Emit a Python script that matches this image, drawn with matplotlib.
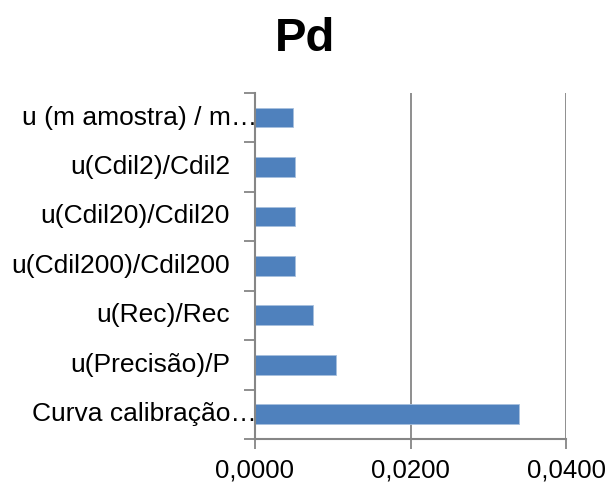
import matplotlib
matplotlib.use("Agg")
import matplotlib.pyplot as plt
from matplotlib.transforms import blended_transform_factory, offset_copy

plt.rcParams['font.family'] = ['Liberation Sans', 'DejaVu Sans']

# categories from bottom to top
labels = ["Curva calibração…", "u(Precisão)/P", "u(Rec)/Rec",
          "u(Cdil200)/Cdil200", "u(Cdil20)/Cdil20", "u(Cdil2)/Cdil2",
          "u (m amostra) / m…"]
values = [0.0340, 0.0104, 0.0074, 0.0052, 0.0052, 0.0052, 0.0049]
x_ticks = [0.0, 0.02, 0.04]
x_tick_labels = ["0,0000", "0,0200", "0,0400"]

fig = plt.figure(figsize=(6.1, 4.86), dpi=100)
ax = fig.add_axes([0.418, 0.0967, 0.51, 0.7123])

pos = list(range(len(labels)))
ax.barh(pos, values, height=0.4, color='#4F81BD', edgecolor='#A7C0DE',
        linewidth=0.6, zorder=3)

ax.set_xlim(0, 0.04)
ax.set_ylim(-0.5, len(labels) - 0.5)
ax.set_xticks(x_ticks)
ax.set_xticklabels(x_tick_labels, fontsize=18.5)
ax.set_yticks([p + 0.5 for p in pos[:-1]] + [-0.5, len(labels) - 0.5])
ax.set_yticklabels([])
ax.tick_params(axis='y', length=8, width=1.3, color='#868686', direction='out')
ax.tick_params(axis='x', length=7, width=1.3, color='#868686', direction='out', pad=7)

ax.grid(axis='x', color='#868686', linewidth=1.3, zorder=0)
for s in ['top', 'right']:
    ax.spines[s].set_visible(False)
for s in ['left', 'bottom']:
    ax.spines[s].set_color('#868686')
    ax.spines[s].set_linewidth(1.5)
ax.spines['left'].set_zorder(4)

trans = blended_transform_factory(ax.transAxes, ax.transData)
for p, lab in zip(pos, labels):
    if lab.endswith("…"):
        t = offset_copy(trans, fig=fig, x=1.5, y=0, units='points')
    else:
        t = offset_copy(trans, fig=fig, x=-18, y=0, units='points')
    ax.text(0, p, lab, transform=t, ha='right', va='center', fontsize=19)

fig.suptitle("Pd", x=0.5, y=0.965, fontsize=34, fontweight='bold')

fig.savefig("out.png", dpi=100)
